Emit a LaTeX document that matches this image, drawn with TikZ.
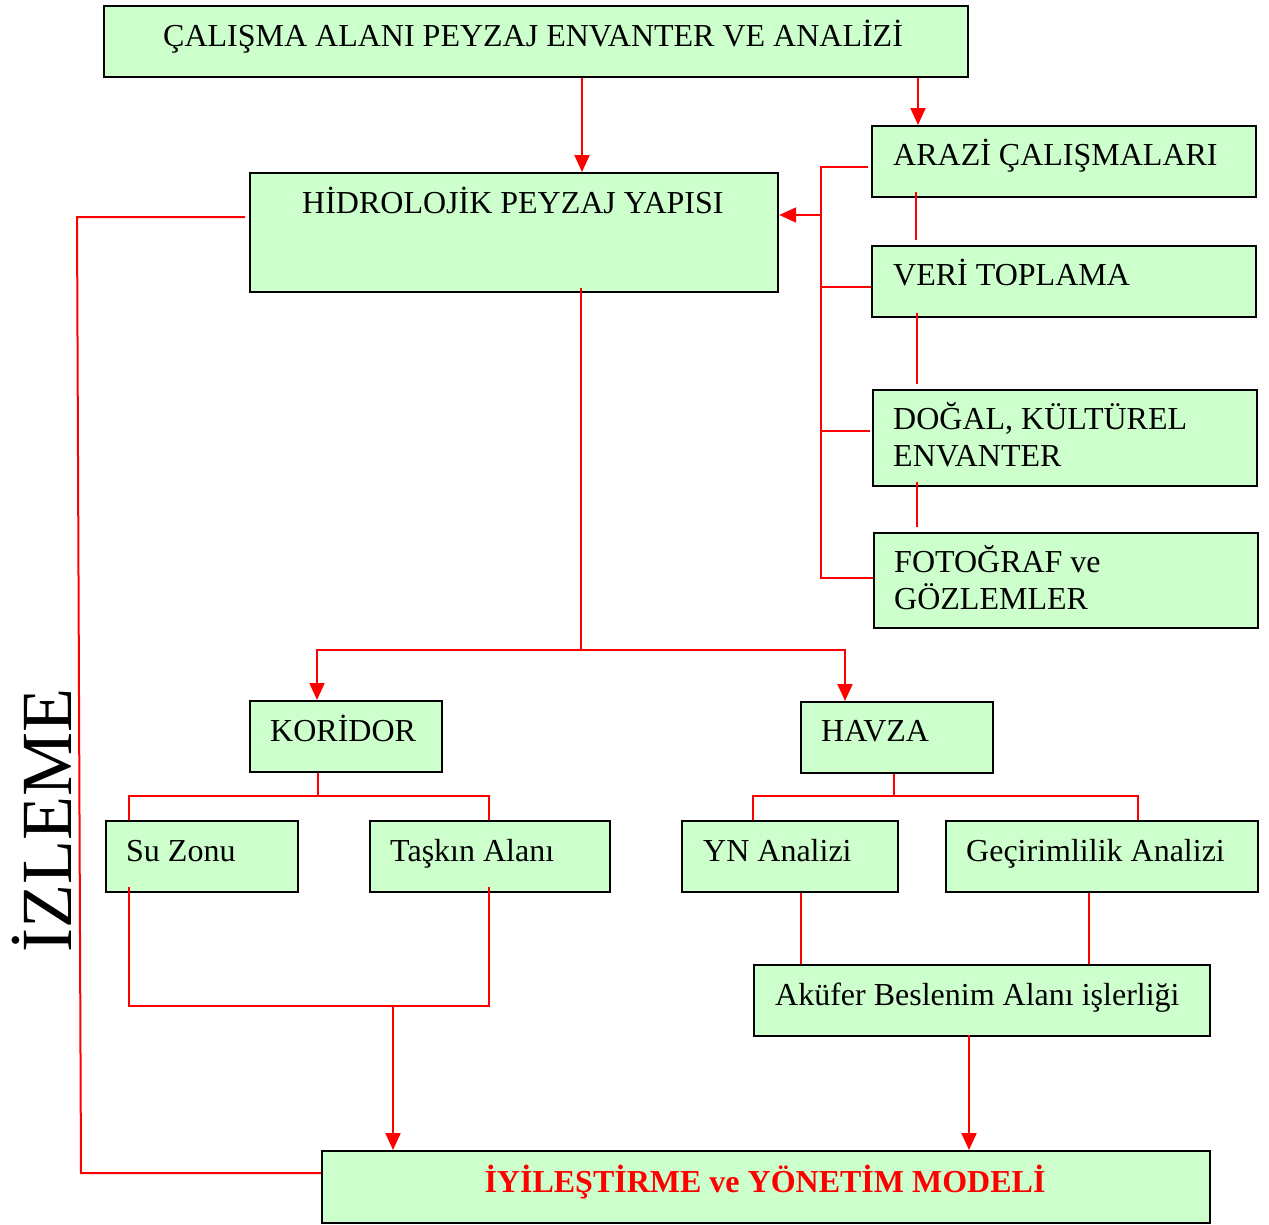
\documentclass[tikz,border=0pt]{standalone}
\usepackage{fontspec}
\setmainfont{Liberation Serif}
\usetikzlibrary{arrows.meta}
\definecolor{boxgreen}{RGB}{204,255,204}
\definecolor{linered}{RGB}{255,0,0}
\begin{document}
\begin{tikzpicture}[x=1pt,y=-1pt,
  box/.style={draw=black, line width=2.2pt, fill=boxgreen, inner sep=0pt, anchor=north west},
  lbl/.style={anchor=base west, inner sep=0pt, font=\fontsize{32}{37}\selectfont},
  conn/.style={draw=linered, line width=2pt},
  arr/.style={conn, -{Triangle[length=17pt,width=15pt]}}]
\useasboundingbox (0,0) rectangle (1269,1224);

% boxes
\node[box, minimum width=864pt, minimum height=71pt] (top) at (103,5) {};
\node[box, minimum width=528pt, minimum height=119pt] (hid) at (249,172) {};
\node[box, minimum width=384pt, minimum height=71pt] (arazi) at (871,125) {};
\node[box, minimum width=384pt, minimum height=71pt] (veri) at (871,245) {};
\node[box, minimum width=384pt, minimum height=96pt] (dogal) at (872,389) {};
\node[box, minimum width=384pt, minimum height=95pt] (foto) at (873,532) {};
\node[box, minimum width=192pt, minimum height=71pt] (kor) at (249,700) {};
\node[box, minimum width=192pt, minimum height=71pt] (havza) at (800,701) {};
\node[box, minimum width=192pt, minimum height=71pt] (su) at (105,820) {};
\node[box, minimum width=240pt, minimum height=71pt] (task) at (369,820) {};
\node[box, minimum width=216pt, minimum height=71pt] (yn) at (681,820) {};
\node[box, minimum width=312pt, minimum height=71pt] (gec) at (945,820) {};
\node[box, minimum width=456pt, minimum height=71pt] (akf) at (753,964) {};
\node[box, minimum width=888pt, minimum height=72pt] (model) at (321,1150) {};

% texts
\node[lbl] (ttop) at (163,46) {ÇALIŞMA ALANI PEYZAJ ENVANTER VE ANALİZİ};
\node[lbl] (thid) at (302,213) {HİDROLOJİK PEYZAJ YAPISI};
\node[lbl] (tarazi) at (893,165) {ARAZİ ÇALIŞMALARI};
\node[lbl] (tveri) at (893,285) {VERİ TOPLAMA};
\node[lbl] (tdogal1) at (893,429) {DOĞAL, KÜLTÜREL};
\node[lbl] (tdogal2) at (893,466) {ENVANTER};
\node[lbl] (tfoto1) at (894,572) {FOTOĞRAF ve};
\node[lbl] (tfoto2) at (894,609) {GÖZLEMLER};
\node[lbl] (tkor) at (270,741) {KORİDOR};
\node[lbl] (thavza) at (821,741) {HAVZA};
\node[lbl] (tsu) at (126,861) {Su Zonu};
\node[lbl] (ttask) at (390,861) {Taşkın Alanı};
\node[lbl] (tyn) at (703,861) {YN Analizi};
\node[lbl] (tgec) at (966,861) {Geçirimlilik Analizi};
\node[lbl] (takf) at (775,1005) {Aküfer Beslenim Alanı işlerliği};
\node[anchor=base, inner sep=0pt, font=\fontsize{32}{37}\selectfont\bfseries, text=linered] (tmodel) at (765,1192) {İYİLEŞTİRME ve YÖNETİM MODELİ};
\node[anchor=base west, inner sep=0pt, rotate=90, font=\fontsize{72}{80}\selectfont] (izleme) at (71,953) {İZLEME};

% connectors
\draw[arr] (top.south -| 582,0) -- (hid.north -| 582,0);
\draw[arr] (top.south -| 918,0) -- (arazi.north -| 918,0);
\coordinate (br1) at (821,167);
\coordinate (br2) at (821,287);
\coordinate (br3) at (821,431);
\coordinate (br4) at (821,578);
\coordinate (brm) at (821,215);
\draw[conn, shorten <=3pt] (arazi.west |- br1) -- (br1) -- (br4) -- (foto.west |- br4);
\draw[conn] (br2) -- (veri.west |- br2);
\draw[conn, shorten >=2pt] (br3) -- (dogal.west |- br3);
\draw[arr] (brm) -- (hid.east |- brm);
\draw[conn, shorten <=-6pt, shorten >=5pt] (arazi.south -| 916,0) -- (veri.north -| 916,0);
\draw[conn, shorten <=-5pt, shorten >=5pt] (veri.south -| 917,0) -- (dogal.north -| 917,0);
\draw[conn, shorten <=-5pt, shorten >=5pt] (dogal.south -| 917,0) -- (foto.north -| 917,0);

\coordinate (hj) at (581,650);
\draw[conn, shorten <=-5pt] (hid.south -| hj) -- (hj);
\draw[arr] (hj) -| (kor.north -| 317,0);
\draw[arr] (hj) -| (havza.north -| 845,0);

\coordinate (kj) at (318,796);
\draw[conn] (kor.south -| kj) -- (kj);
\draw[conn] (kj) -| (su.north -| 129,0);
\draw[conn] (kj) -| (task.north -| 489,0);

\coordinate (vj) at (894,796);
\draw[conn] (havza.south -| vj) -- (vj);
\draw[conn] (vj) -| (yn.north -| 753,0);
\draw[conn] (vj) -| (gec.north -| 1138,0);

\coordinate (sj) at (393,1006);
\draw[conn, shorten <=-6pt, shorten >=-6pt] (su.south -| 129,0) |- (sj) -| (task.south -| 489,0);
\draw[arr] (sj) -- (model.north -| sj);

\draw[conn] (yn.south -| 801,0) -- (akf.north -| 801,0);
\draw[conn] (gec.south -| 1089,0) -- (akf.north -| 1089,0);
\draw[arr, shorten <=-2pt] (akf.south -| 969,0) -- (model.north -| 969,0);

\coordinate (iz1) at (77,217);
\coordinate (iz2) at (81,1173);
\draw[conn, shorten <=4pt] (hid.west |- iz1) -- (iz1) -- (iz2) -- (model.west |- iz2);
\end{tikzpicture}
\end{document}
